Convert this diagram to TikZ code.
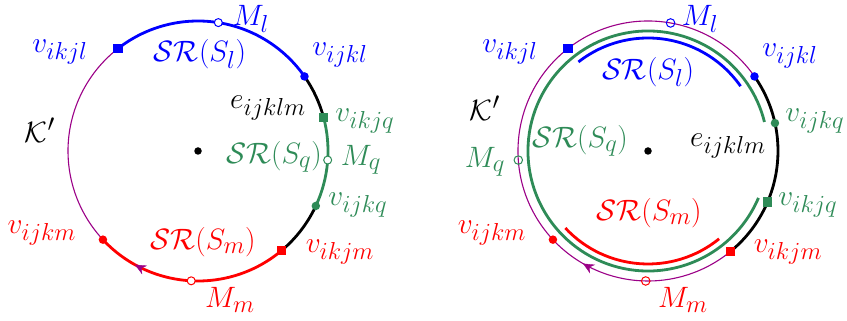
\documentclass[tikz,border=0pt]{standalone}
\usetikzlibrary{arrows.meta,decorations.markings}
\DeclareMathSizes{20.74}{20.74}{17.28}{14.4}
\definecolor{pK}{RGB}{155,0,135}
\definecolor{gK}{RGB}{46,139,87}
\begin{document}
\begin{tikzpicture}[x=1pt,y=1pt,
  thickarc/.style={line width=2.8pt},
  thinarc/.style={line width=1.1pt},
  lbl/.style={font=\huge, scale=1.42, inner sep=0},
  fdot/.style={circle, fill, inner sep=0, minimum size=8.5pt},
  fsq/.style={rectangle, fill, inner sep=0, minimum size=9.5pt},
  odot/.style={circle, draw=#1, fill=white, line width=1pt, inner sep=0, minimum size=8pt},
  odotT/.style={circle, draw=#1, line width=1pt, inner sep=0, minimum size=8.5pt},
  cdot/.style={circle, fill=black, inner sep=0, minimum size=7.5pt},
  arrowmark/.style={decorate, decoration={markings, mark=at position 1 with {\arrow[pK]{Stealth[length=11pt,width=10pt]}}}}
]
\useasboundingbox (0,0) rectangle (847,321);
% ---------------- left circle ----------------
\coordinate (CL) at (198,170);
\node[cdot] (cl) at (CL) {};
\coordinate (Lkjl) at ([shift={(128:130)}]CL);
\coordinate (Lijkl) at ([shift={(35:130)}]CL);
\coordinate (Lkjq) at ([shift={(15:130)}]CL);
\coordinate (Lijkq) at ([shift={(-25:130)}]CL);
\coordinate (Lkjm) at ([shift={(-50:130)}]CL);
\coordinate (Lijkm) at ([shift={(-137:130)}]CL);
\coordinate (LarrS) at ([shift={(-100:130)}]CL);
\draw[thinarc, pK] (Lkjl) arc[start angle=128, end angle=223, radius=130];
\draw[thickarc, blue] (Lijkl) arc[start angle=35, end angle=128, radius=130];
\draw[thickarc, black] (Lkjq) arc[start angle=15, end angle=35, radius=130];
\draw[thickarc, gK] (Lijkq) arc[start angle=-25, end angle=15, radius=130];
\draw[thickarc, black] (Lkjm) arc[start angle=-50, end angle=-25, radius=130];
\draw[thickarc, red] (Lijkm) arc[start angle=-137, end angle=-50, radius=130];
\path[arrowmark] (LarrS) arc[start angle=-100, end angle=-119, radius=130];
\node[fsq, blue] (mLkjl) at (Lkjl) {};
\node[fdot, blue] (mLijkl) at (Lijkl) {};
\node[odot=blue] (mLMl) at ([shift={(81:130)}]CL) {};
\node[fsq, gK] (mLkjq) at (Lkjq) {};
\node[odot=gK] (mLMq) at ([shift={(-4:130)}]CL) {};
\node[fdot, gK] (mLijkq) at (Lijkq) {};
\node[fsq, red] (mLkjm) at (Lkjm) {};
\node[odot=red] (mLMm) at ([shift={(-93:130)}]CL) {};
\node[fdot, red] (mLijkm) at (Lijkm) {};
% labels left
\node[lbl, blue] (tLMl) at (251,302) {$M_l$};
\node[lbl, blue] (tLkjl) at (60,269) {$v_{ikjl}$};
\node[lbl, blue] (tLSRl) at (200,267) {$\mathcal{SR}(S_l)$};
\node[lbl, blue] (tLijkl) at (340,266) {$v_{ijkl}$};
\node[lbl] (tLe) at (268,213) {$e_{ijklm}$};
\node[lbl, gK] (tLkjq) at (365,200) {$v_{ikjq}$};
\node[lbl] (tLK) at (40,191) {$\mathcal{K}'$};
\node[lbl, gK] (tLSRq) at (274,164) {$\mathcal{SR}(S_q)$};
\node[lbl, gK] (tLMq) at (361,161) {$M_q$};
\node[lbl, gK] (tLijkq) at (358,116) {$v_{ijkq}$};
\node[lbl, red] (tLijkm) at (42,88) {$v_{ijkm}$};
\node[lbl, red] (tLSRm) at (203,79) {$\mathcal{SR}(S_m)$};
\node[lbl, red] (tLkjm) at (340,69) {$v_{ikjm}$};
\node[lbl, red] (tLMm) at (230,21) {$M_m$};
% ---------------- right circle ----------------
\coordinate (CR) at (648,170);
\node[cdot] (cr) at (CR) {};
\coordinate (Rkjl) at ([shift={(128:130)}]CR);
\coordinate (Rijkl) at ([shift={(35:130)}]CR);
\coordinate (Rijkq) at ([shift={(12.4:130)}]CR);
\coordinate (Rkjq) at ([shift={(-23:130)}]CR);
\coordinate (Rkjm) at ([shift={(-50.6:130)}]CR);
\coordinate (Rijkm) at ([shift={(-137:130)}]CR);
\coordinate (RarrS) at ([shift={(-101:130)}]CR);
\coordinate (RgS) at ([shift={(14:120)}]CR);
\coordinate (RbS) at ([shift={(35:113)}]CR);
\coordinate (RrS) at ([shift={(-137:113)}]CR);
\draw[thinarc, pK] (Rijkl) arc[start angle=35, end angle=309.4, radius=130];
\draw[thickarc, black] (Rkjm) arc[start angle=-50.6, end angle=35, radius=130];
\draw[thickarc, gK] (RgS) arc[start angle=14, end angle=337, radius=120];
\draw[thickarc, blue] (RbS) arc[start angle=35, end angle=128, radius=113];
\draw[thickarc, red] (RrS) arc[start angle=-137, end angle=-51, radius=113];
\path[arrowmark] (RarrS) arc[start angle=-101, end angle=-120, radius=130];
\node[fsq, blue] (mRkjl) at (Rkjl) {};
\node[fdot, blue] (mRijkl) at (Rijkl) {};
\node[odotT=blue] (mRMl) at ([shift={(80:130)}]CR) {};
\node[fdot, gK] (mRijkq) at (Rijkq) {};
\node[fsq, gK] (mRkjq) at (Rkjq) {};
\node[odotT=gK] (mRMq) at ([shift={(184:130)}]CR) {};
\node[fsq, red] (mRkjm) at (Rkjm) {};
\node[odotT=red] (mRMm) at ([shift={(-91:130)}]CR) {};
\node[fdot, red] (mRijkm) at (Rijkm) {};
% labels right
\node[lbl, blue] (tRMl) at (700,302) {$M_l$};
\node[lbl, blue] (tRkjl) at (510,269) {$v_{ikjl}$};
\node[lbl, blue] (tRSRl) at (648,249) {$\mathcal{SR}(S_l)$};
\node[lbl, blue] (tRijkl) at (790,265) {$v_{ijkl}$};
\node[lbl] (tRK) at (485,213) {$\mathcal{K}'$};
\node[lbl, gK] (tRSRq) at (580,180) {$\mathcal{SR}(S_q)$};
\node[lbl] (tRe) at (728,175) {$e_{ijklm}$};
\node[lbl, gK] (tRijkq) at (815,200) {$v_{ijkq}$};
\node[lbl, gK] (tRMq) at (485,159) {$M_q$};
\node[lbl, gK] (tRkjq) at (808,116) {$v_{ikjq}$};
\node[lbl, red] (tRSRm) at (649,108) {$\mathcal{SR}(S_m)$};
\node[lbl, red] (tRijkm) at (492,88) {$v_{ijkm}$};
\node[lbl, red] (tRkjm) at (788,69) {$v_{ikjm}$};
\node[lbl, red] (tRMm) at (683,21) {$M_m$};
\end{tikzpicture}
\end{document}
